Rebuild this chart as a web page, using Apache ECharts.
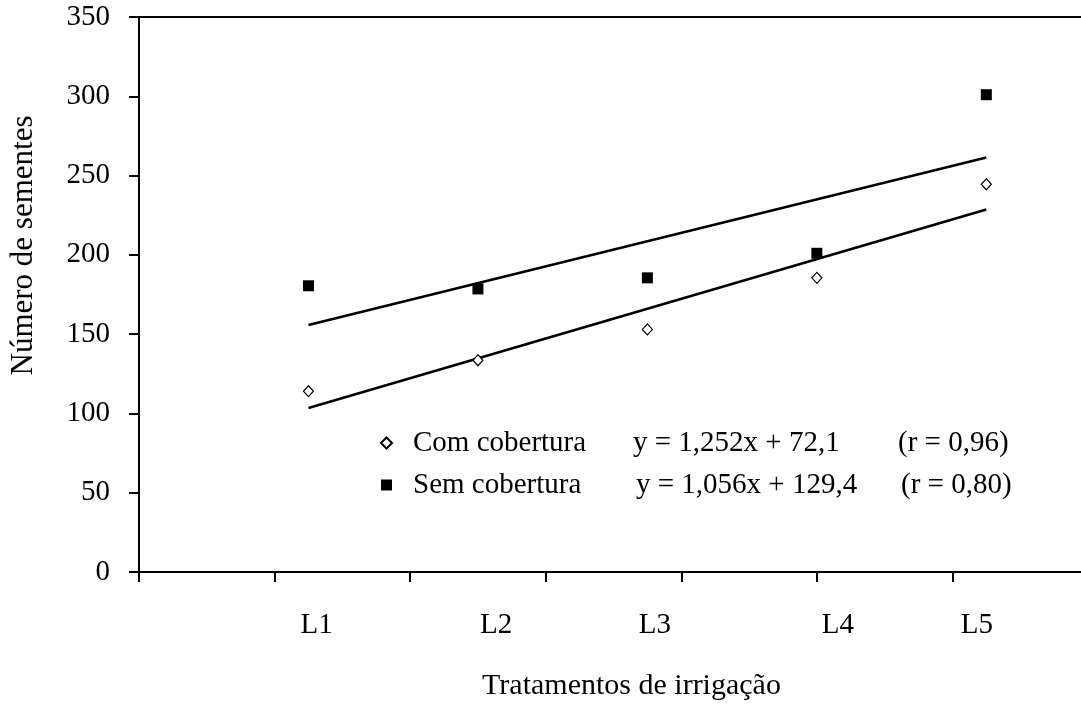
<!DOCTYPE html>
<html>
<head>
<meta charset="utf-8">
<script src="https://cdn.jsdelivr.net/npm/echarts@6/dist/echarts.min.js"></script>
<style>
html,body{margin:0;padding:0;background:#fff;}
#c{width:1081px;height:706px;}
</style>
</head>
<body>
<div id="c"></div>
<script>
// ---- data ----
const seriesNames = ['Com cobertura', 'Sem cobertura'];
const xPositions = [25, 50, 75, 100, 125];
const comValues = [114, 133.5, 153, 185.5, 244.5];
const semValues = [180.5, 178.5, 185.5, 201, 301];
const trendCom = [[25, 103.4], [125, 228.6]];
const trendSem = [[25, 155.8], [125, 261.4]];
const categoryLabels = ['L1', 'L2', 'L3', 'L4', 'L5'];
const categoryLabelPositions = [26.2, 52.7, 76.1, 103.1, 123.6];
const xTickValues = [0, 20, 40, 60, 80, 100, 120];
const equations = ['y = 1,252x + 72,1', 'y = 1,056x + 129,4'];
const rValues = ['(r = 0,96)', '(r = 0,80)'];
const yAxisName = 'Número de sementes';
const xAxisName = 'Tratamentos de irrigação';

const FONT = 'Liberation Serif';
const chart = echarts.init(document.getElementById('c'), null, {renderer: 'canvas'});

const option = {
  animation: false,
  backgroundColor: '#fff',
  grid: {
    left: 139, top: 17, width: 949, height: 555,
    containLabel: false, outerBoundsMode: 'none', show: false
  },
  legend: {
    data: seriesNames,
    orient: 'vertical',
    left: 380, top: 427,
    padding: 0,
    itemWidth: 11, itemHeight: 11, itemGap: 10,
    textStyle: {
      fontFamily: FONT, fontSize: 29, color: '#000', lineHeight: 32,
      rich: {
        s: {width: 16},
        n0: {width: 220, fontFamily: FONT, fontSize: 29, color: '#000'},
        n1: {width: 223, fontFamily: FONT, fontSize: 29, color: '#000'},
        e0: {width: 265, fontFamily: FONT, fontSize: 29, color: '#000'},
        e1: {width: 265, fontFamily: FONT, fontSize: 29, color: '#000'},
        r: {fontFamily: FONT, fontSize: 29, color: '#000'}
      }
    },
    formatter: function (name) {
      const i = seriesNames.indexOf(name);
      return '{s|}{n' + i + '|' + name + '}{e' + i + '|' + equations[i] + '}{r|' + rValues[i] + '}';
    }
  },
  xAxis: [{
    type: 'value', min: 0, max: 140, interval: 20,
    name: xAxisName, nameLocation: 'middle', nameGap: 99,
    nameTextStyle: {fontFamily: FONT, fontSize: 30, color: '#000', padding: [0, 0, 0, 36]},
    axisLine: {show: true, onZero: false, lineStyle: {color: '#000', width: 2}},
    axisTick: {show: true, length: 10, customValues: xTickValues, lineStyle: {color: '#000', width: 2}},
    splitLine: {show: false},
    axisLabel: {
      show: true, margin: 39, customValues: categoryLabelPositions,
      fontFamily: FONT, fontSize: 29, color: '#000',
      formatter: function (v) {
        const i = categoryLabelPositions.indexOf(v);
        return i >= 0 ? categoryLabels[i] : '';
      }
    }
  }, {
    type: 'value', position: 'top', min: 0, max: 140, interval: 20,
    axisLine: {show: true, onZero: false, lineStyle: {color: '#000', width: 2}},
    axisTick: {show: false}, axisLabel: {show: false}, splitLine: {show: false}
  }],
  yAxis: {
    type: 'value', min: 0, max: 350, interval: 50,
    name: yAxisName, nameLocation: 'middle', nameGap: 100, nameRotate: 90,
    nameTextStyle: {fontFamily: FONT, fontSize: 31, color: '#000', padding: [0, 0, 0, 98]},
    axisLine: {show: true, lineStyle: {color: '#000', width: 2}},
    axisTick: {show: true, length: 10, lineStyle: {color: '#000', width: 2}},
    splitLine: {show: false},
    axisLabel: {margin: 29, fontFamily: FONT, fontSize: 29, color: '#000', padding: [8, 0, 0, 0]}
  },
  series: [
    {
      type: 'line', data: trendCom, symbol: 'none', silent: true, z: 2,
      lineStyle: {color: '#000', width: 2.5}
    },
    {
      type: 'line', data: trendSem, symbol: 'none', silent: true, z: 2,
      lineStyle: {color: '#000', width: 2.5}
    },
    {
      name: seriesNames[0], type: 'scatter', z: 3,
      symbol: 'diamond', symbolSize: [10, 11],
      itemStyle: {color: '#fff', borderColor: '#000', borderWidth: 1.2, opacity: 1},
      data: xPositions.map(function (x, i) { return [x, comValues[i]]; })
    },
    {
      name: seriesNames[1], type: 'scatter', z: 3,
      symbol: 'rect', symbolSize: 11,
      itemStyle: {color: '#000', opacity: 1},
      data: xPositions.map(function (x, i) { return [x, semValues[i]]; })
    }
  ]
};
chart.setOption(option);
</script>
</body>
</html>
